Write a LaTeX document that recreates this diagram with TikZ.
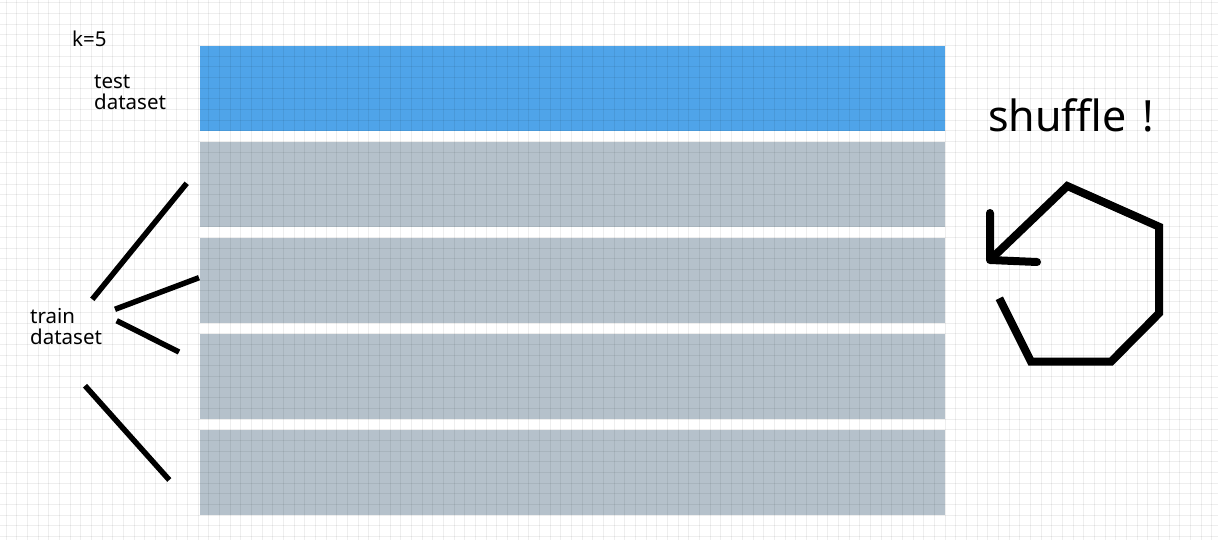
\documentclass[tikz,border=0pt]{standalone}
\usepackage{fontspec}
\setmainfont{Noto Sans}
\definecolor{testblue}{HTML}{4FA4E9}
\definecolor{traingray}{HTML}{B5C1CB}
\tikzset{
  fold/.style={rectangle, draw=none, minimum width=745pt, minimum height=85pt, inner sep=0pt},
  gridline/.style={draw=black, opacity=0.065, line width=1pt},
  stroke/.style={draw=black, line width=5.5pt},
  loopline/.style={draw=black, line width=8pt, line join=miter},
  headline/.style={draw=black, line width=8pt, line cap=round, line join=round},
  lbl/.style={inner sep=0pt, align=left, anchor=base west, font=\fontsize{20.5}{21}\selectfont}
}
\begin{document}
\begin{tikzpicture}[x=1pt,y=-1pt]
\useasboundingbox (0,0) rectangle (1218,540);
\fill[white] (0,0) rectangle (1218,540);
% folds
\node[fold, fill=testblue] (f1) at (572.5,88.5) {};
\node[fold, fill=traingray] (f2) at (572.5,184.5) {};
\node[fold, fill=traingray] (f3) at (572.5,280.5) {};
\node[fold, fill=traingray] (f4) at (572.5,376.5) {};
\node[fold, fill=traingray] (f5) at (572.5,472.5) {};
% grid
\foreach \i in {0,...,114} { \draw[gridline] ({6.1+10.67*\i},0) -- ++(0,540); }
\foreach \j in {0,...,50} { \draw[gridline] (0,{2.9+10.67*\j}) -- ++(1218,0); }
% labels
\node[lbl] (k) at (72,47) {k=5};
\node[lbl] (test) at (94,110) {test\\dataset};
\node[lbl] (train) at (30,344) {train\\dataset};
\node[inner sep=0pt, anchor=base west, font=\fontsize{43}{48}\selectfont] (shuf) at (988,132) {shuffle\hspace{4pt} !};
% train strokes
\coordinate (a1) at (186.7,183.3); \coordinate (a2) at (92.3,299.3);
\coordinate (b1) at (115,309.3); \coordinate (b2) at (199,277.7);
\coordinate (c1) at (116.7,320.7); \coordinate (c2) at (179,352);
\coordinate (d1) at (85,385.7); \coordinate (d2) at (169.3,480);
\draw[stroke] (a1) -- (a2);
\draw[stroke] (b1) -- (b2);
\draw[stroke] (c1) -- (c2);
\draw[stroke] (d1) -- (d2);
% shuffle loop
\coordinate (p0) at (999.3,298.3);
\coordinate (p1) at (1031,361.7);
\coordinate (p2) at (1111,361.7);
\coordinate (p3) at (1159,313.3);
\coordinate (p4) at (1159,226.7);
\coordinate (p5) at (1067.3,186);
\coordinate (tip) at (990,260);
\coordinate (h1) at (990,213);
\coordinate (h2) at (1037,262);
\draw[loopline] (p0) -- (p1) -- (p2) -- (p3) -- (p4) -- (p5) -- (tip);
\draw[headline] (h1) -- (tip) -- (h2);
\end{tikzpicture}
\end{document}
